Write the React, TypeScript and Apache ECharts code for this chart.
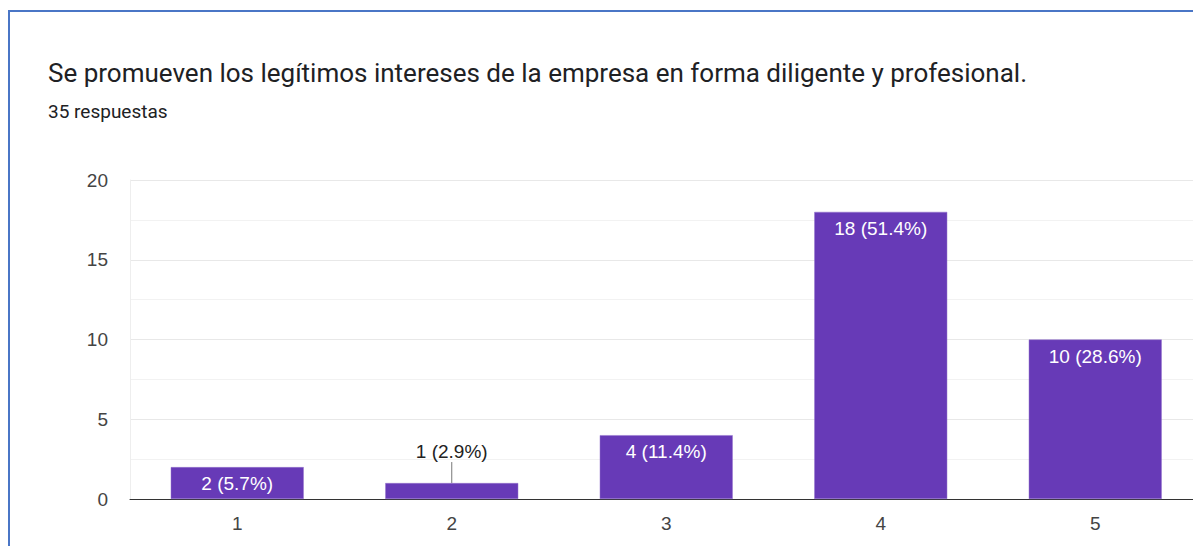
import React, { useEffect, useRef } from "react";
import * as echarts from "echarts";

const titleText = "Se promueven los legítimos intereses de la empresa en forma diligente y profesional.";
const subtitleText = "35 respuestas";
const categories = ["1", "2", "3", "4", "5"];
const counts = [2, 1, 4, 18, 10];
const percents = ["5.7", "2.9", "11.4", "51.4", "28.6"];
const outsideLabelIndex = [1];

export default function App() {
  const ref = useRef<HTMLDivElement>(null);
  useEffect(() => {
    const chart = echarts.init(ref.current!, null, { renderer: "svg" });
    const data = counts.map((v, i) => {
      const outside = outsideLabelIndex.includes(i);
      return outside
        ? { value: v, label: { position: "top", color: "#222", distance: 22 } }
        : { value: v };
    });
    chart.setOption({
      animation: false,
      backgroundColor: "#fff",
      title: {
        text: titleText,
        subtext: subtitleText,
        left: 43,
        top: 55,
        itemGap: 16,
        textStyle: { fontFamily: "Roboto", fontSize: 26, fontWeight: "normal", color: "#202124" },
        subtextStyle: { fontFamily: "Roboto", fontSize: 19, color: "#202124" },
      },
      grid: { left: 130, right: 7.5, top: 180, bottom: 47 },
      xAxis: {
        type: "category",
        data: categories,
        axisLine: { show: true, lineStyle: { color: "#333", width: 1 } },
        axisTick: { show: false },
        axisLabel: { color: "#444", fontFamily: "Liberation Sans", fontSize: 19, margin: 15 },
      },
      yAxis: {
        type: "value",
        min: 0,
        max: 20,
        interval: 5,
        axisLine: { show: true, lineStyle: { color: "#eee" } },
        axisTick: { show: false },
        axisLabel: { color: "#444", fontFamily: "Liberation Sans", fontSize: 19, margin: 22 },
        splitLine: { lineStyle: { color: "#e8e8e8" } },
        minorTick: { show: false, splitNumber: 2 },
        minorSplitLine: { show: true, lineStyle: { color: "#f2f2f2" } },
      },
      series: [
        {
          type: "bar",
          data,
          barCategoryGap: "38%",
          itemStyle: { color: "#673ab7", borderColor: "#9575cd", borderWidth: 0.5 },
          label: {
            show: true,
            position: "insideTop",
            distance: 7,
            color: "#fff",
            fontFamily: "Liberation Sans",
            fontSize: 19,
            formatter: (p: any) => `${counts[p.dataIndex]} (${percents[p.dataIndex]}%)`,
          },
        },
      ],
    });
    const leaders = outsideLabelIndex.map((i) => {
      const [x, y] = chart.convertToPixel({ gridIndex: 0 }, [i, counts[i]]) as number[];
      return { type: "line", shape: { x1: x, y1: y, x2: x, y2: y - 21 }, style: { stroke: "#777", lineWidth: 1 } };
    });
    chart.setOption({
      graphic: [
        { type: "line", shape: { x1: 8, y1: 11, x2: 1210, y2: 11 }, style: { stroke: "#4a76c6", lineWidth: 2 } },
        { type: "line", shape: { x1: 9, y1: 10, x2: 9, y2: 546 }, style: { stroke: "#4a76c6", lineWidth: 2 } },
        ...leaders,
      ],
    });
    return () => chart.dispose();
  }, []);
  return (
    <div style={{ position: "fixed", left: 0, top: 0, width: 1193, height: 546, overflow: "hidden", background: "#fff" }}>
      <div ref={ref} style={{ width: 1210, height: 546 }} />
    </div>
  );
}
